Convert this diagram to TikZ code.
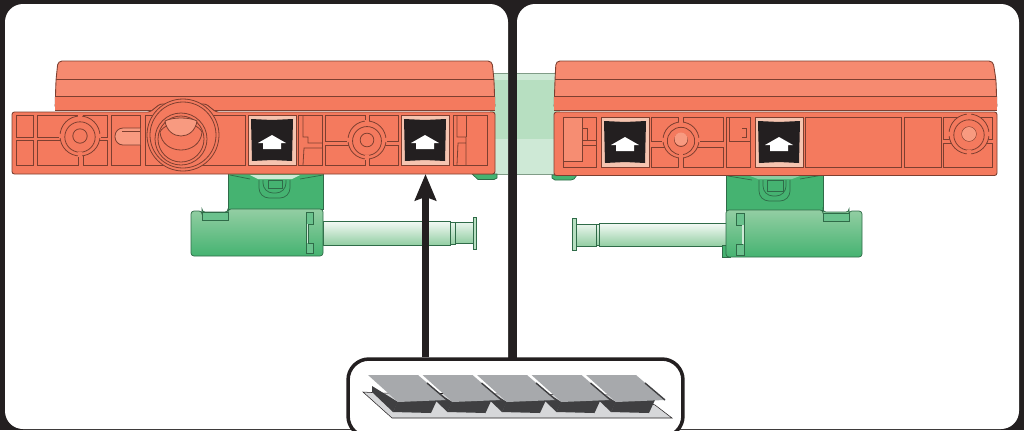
\documentclass[tikz,border=0pt]{standalone}
\usepackage{tikz}
\usetikzlibrary{arrows.meta}
\definecolor{frameblk}{HTML}{231F20}
\definecolor{redbody}{HTML}{F47A5E}
\definecolor{redband}{HTML}{F68A70}
\definecolor{redlight}{HTML}{F89A80}
\definecolor{redline}{HTML}{7D3F30}
\definecolor{badgepale}{HTML}{F6C4B0}
\definecolor{greenbody}{HTML}{45B371}
\definecolor{greenpale}{HTML}{93CEA3}
\definecolor{greenline}{HTML}{2F6B48}
\definecolor{barmid}{HTML}{B7DFC1}
\definecolor{barpale}{HTML}{CEE9D6}
\definecolor{padtop}{HTML}{A7A9AC}
\definecolor{padside}{HTML}{3F3F41}
\definecolor{padbase}{HTML}{D6D7D9}

% --- Small parts that repeat ---
\newcommand{\cell}[4]{\draw[cellline] (#1,#2) rectangle (#3,#4);}
\newcommand{\badge}[2]{% pale square, black label, white arrow; #1 = centre x, #2 = top y
  \draw[cellline, fill=badgepale] (#1-24,#2) rectangle (#1+24,#2+50);
  \fill[frameblk] (#1-21,#2+4) -- (#1,#2+5) -- (#1+21,#2+4) -- (#1+20,#2+46) -- (#1,#2+45) -- (#1-20,#2+46) -- cycle;
  \fill[white] (#1,#2+20) -- (#1+14,#2+28) -- (#1+9,#2+28) -- (#1+9,#2+34) -- (#1-9,#2+34) -- (#1-9,#2+28) -- (#1-14,#2+28) -- cycle;}
\newcommand{\socket}[4]{% #1,#2 = centre, #3 = radius, #4 = fill of the inner circle
  \draw[cellline, fill=redbody] (#1,#2) circle (#3);
  \draw[cellline] (#1,#2+1) circle (#3*0.76);
  \draw[cellline, fill=#4] (#1,#2) circle (#3*0.36);
  \fill[redbody] (#1-1.6,#2-#3-1) rectangle (#1+1.6,#2-#3*0.78);
  \fill[redbody] (#1-1.6,#2+#3*0.8) rectangle (#1+1.6,#2+#3+1);
  \fill[redbody] (#1-#3-1,#2-1.6) rectangle (#1-#3*0.8,#2+1.6);
  \fill[redbody] (#1+#3*0.8,#2-1.6) rectangle (#1+#3+1,#2+1.6);}
\newcommand{\keypad}[1]{% one key of the strip, #1 = x shift
  \fill[padside] (#1+372,386) -- (#1+398,402) -- (#1+393,412) -- (#1+372,392) -- cycle;
  \fill[padside] (#1+398,401) -- (#1+437,400) -- (#1+431,413) -- (#1+393,412) -- cycle;
  \draw[white, line width=0.7pt] (#1+419,376) -- (#1+428,383);
  \fill[padtop] (#1+368,375) -- (#1+418,375) -- (#1+447,400) -- (#1+398,402) -- cycle;
  \draw[padside, line width=0.8pt] (#1+427,383) -- (#1+447,400);}

\begin{document}
\begin{tikzpicture}[x=0.02cm, y=-0.02cm, >=stealth]
\tikzstyle{cellline} = [draw=redline, line width=0.45pt]
\tikzstyle{greenedge} = [draw=greenline, line width=0.4pt]
\tikzstyle{panel} = [fill=white, rounded corners=0.36cm]
\tikzstyle{bandline} = [draw=redline, line width=0.5pt]
\tikzstyle{ushape} = [greenedge, rounded corners=0.2cm]

\useasboundingbox (0,0) rectangle (1024,430);

% ==========================================
% FRAME: two white panels on black
% ==========================================
\fill[frameblk] (0,0) rectangle (1024,430);
\fill[panel] (5,4) rectangle (508,429);
\fill[panel] (517,4) rectangle (1019,429);

% ==========================================
% GREEN BAR behind the two cut ends
% ==========================================
\fill[barpale] (490,73) rectangle (508,174);
\fill[barmid] (490,80) rectangle (508,139);
\fill[barpale] (517,73) rectangle (560,174);
\fill[barmid] (517,80) rectangle (560,139);
\draw[barmid!70!black, line width=0.3pt] (490,73) -- (508,73) (517,73) -- (560,73) (490,174) -- (508,174) (517,174) -- (560,174);
\draw[greenedge, fill=greenbody] (472,174) -- (497,174) -- (497,178) -- (494,179.5) -- (478,179.5) -- cycle;
\draw[greenedge, fill=greenbody] (552,175) -- (577,175) -- (574,179) -- (571,180) -- (555,180) -- (552,178) -- cycle;

% ==========================================
% LEFT CONNECTOR
% ==========================================
\draw[greenedge, fill=greenbody] (228,172) rectangle (323,209);
\draw[greenedge] (230,175) -- (250,179) (323,175) -- (300,179);
\fill[barpale] (250,175) -- (300,175) -- (292,179) -- (258,179) -- cycle;
\draw[ushape] (259,180) -- (259,198) -- (290,198) -- (290,180);
\draw[ushape] (263,180) -- (263,193) -- (286,193) -- (286,180);
\draw[greenedge] (268,180) rectangle (282,188);
% shaft
\draw[greenedge, top color=white!90!greenpale, bottom color=greenpale] (323,221) rectangle (450,245);
\draw[greenedge, top color=white!80!greenpale, bottom color=greenpale] (450,222) rectangle (455,244);
\draw[greenedge, top color=white!80!greenpale, bottom color=greenpale] (455,222) rectangle (473,243);
\draw[greenedge, fill=barmid] (473,217) rectangle (476,249);
% body with its tab
\draw[greenedge, top color=greenpale, bottom color=greenbody, rounded corners=0.06cm] (191,256) -- (191,211) -- (202,211) -- (202,212) -- (228,212) -- (228,209) -- (323,209) -- (323,256) -- cycle;
\draw[greenedge, fill=greenbody!80!white] (202,212) rectangle (228,220);
\draw[greenedge, fill=greenbody!80!white] (306,212) -- (313,212) -- (313,224) -- (308,224) -- (308,243) -- (313,243) -- (313,253) -- (306,253) -- cycle;
\fill[barpale] (306.6,224) rectangle (308,243);

% ==========================================
% RIGHT CONNECTOR
% ==========================================
\draw[greenedge, fill=greenbody] (726,172) rectangle (823,210);
\draw[greenedge] (728,176) -- (752,180) (823,175) -- (800,179);
\fill[barpale!50!greenbody] (750,176) -- (800,176) -- (792,179) -- (758,179) -- cycle;
\draw[ushape] (759,180) -- (759,201) -- (790,201) -- (790,180);
\draw[ushape] (763,180) -- (763,196) -- (786,196) -- (786,180);
\draw[greenedge] (767,180) rectangle (783,191);
% shaft
\draw[greenedge, top color=white!90!greenpale, bottom color=greenpale] (599,223) rectangle (726,246);
\draw[greenedge, top color=white!80!greenpale, bottom color=greenpale] (596,224) rectangle (599,245);
\draw[greenedge, top color=white!80!greenpale, bottom color=greenpale] (576,224) rectangle (596,246);
\draw[greenedge, fill=barmid] (572,218) rectangle (576,250);
% body with its tab
\draw[greenedge, fill=greenbody] (722,245) rectangle (730,257);
\draw[greenedge, top color=greenpale, bottom color=greenbody, rounded corners=0.06cm] (726,257) -- (726,210) -- (823,210) -- (823,212) -- (849,212) -- (849,211) -- (862,211) -- (862,257) -- cycle;
\draw[greenedge, fill=greenbody!80!white] (823,213) rectangle (849,221);
\draw[greenedge, fill=greenbody!80!white] (744,213) -- (736,213) -- (736,225) -- (742,225) -- (742,244) -- (736,244) -- (736,255) -- (744,255) -- cycle;
\fill[barpale] (742,225) rectangle (743.5,244);

% ==========================================
% LEFT UNIT
% ==========================================
\draw[bandline, fill=redband, rounded corners=0.08cm] (55,110) -- (56,80) -- (58,61) -- (492,61) -- (494,80) -- (495,110) -- cycle;
\fill[redbody] (55.3,97) rectangle (494.7,110);
\draw[bandline] (56,79) -- (494,79) (55,96) -- (495,96) (55,110) -- (495,110);
\draw[bandline, fill=redbody, rounded corners=0.05cm] (12,112) -- (150,112) -- (160,104) -- (206,104) -- (216,112) -- (495,112) -- (495,174) -- (12,174) -- cycle;
% compartments from left to right
\cell{16}{115}{33}{137}
\cell{16}{140}{33}{165}
\cell{37}{115}{78}{137}
\cell{37}{140}{78}{165}
\cell{83}{115}{107}{137}
\cell{83}{140}{107}{165}
\socket{80}{136}{20}{redbody}
\cell{111}{115}{140}{165}
\draw[cellline, fill=redlight, rounded corners=0.16cm] (140,128) -- (115,128) -- (115,145) -- (140,145);
\draw[cellline] (122,131) -- (140,131);
\cell{145}{115}{245}{165}
\draw[cellline, fill=redbody] (183,135) circle (36);
\draw[cellline] (183,135) circle (33);
\draw[cellline, fill=redbody] (181,139) circle (26);
\draw[cellline] (181,139) circle (23);
\draw[cellline, fill=redbody] (160,132) .. controls (162,156) and (200,156) .. (202,132) .. controls (196,120) and (166,120) .. cycle;
\draw[cellline, fill=redlight] (165,121) .. controls (168,141) and (194,141) .. (197,121) .. controls (190,117) and (172,117) .. cycle;
\badge{272}{115}
\cell{298}{115}{322}{165}
\draw[cellline] (303,115) -- (303,137) -- (308,137) -- (308,143) -- (322,143) (303,165) -- (304,148) -- (322,148);
\cell{325}{115}{365}{141}
\cell{325}{145}{365}{165}
\cell{369}{115}{398}{141}
\cell{369}{145}{398}{165}
\socket{367}{140}{19}{redbody}
\badge{425}{115}
\cell{453}{115}{487}{165}
\draw[cellline] (457,115) -- (457,137) -- (466,137) -- (466,165) (457,165) -- (458,143) -- (466,143);
\draw[cellline] (466,115) -- (466,137);

% ==========================================
% RIGHT UNIT
% ==========================================
\draw[bandline, fill=redband, rounded corners=0.08cm] (554,110) -- (555,80) -- (556,61) -- (993,61) -- (996,80) -- (997,110) -- cycle;
\fill[redbody] (554.3,97) rectangle (996.7,110);
\draw[bandline] (555,79) -- (996,79) (554,96) -- (997,96) (554,110) -- (997,110);
\draw[bandline, fill=redbody, rounded corners=0.05cm] (554,112) rectangle (997,175.5);
% compartments from left to right
\cell{563}{117}{596}{167}
\draw[cellline, fill=redlight!60!redbody] (563,117) rectangle (582,161);
\draw[cellline] (582,128) -- (587,128) -- (587,140) -- (582,140) (582,140) -- (596,140) (582,145) -- (596,145);
\badge{625}{117}
\cell{651}{117}{678}{141}
\cell{651}{147}{678}{167}
\cell{683}{117}{723}{141}
\cell{683}{147}{723}{167}
\socket{681}{140}{18}{redbody}
\fill[redlight] (681,139) circle (6.5);
\cell{726}{117}{750}{167}
\draw[cellline] (729,117) -- (729,141) -- (750,141) (742,128) -- (746,128) -- (746,137) -- (742,137);
\badge{779}{117}
\cell{805}{117}{901}{167}
\cell{904}{117}{941}{167}
\cell{943}{117}{992}{139}
\cell{943}{143}{992}{167}
\socket{969}{134}{20}{redbody}
\fill[redlight] (969,134) circle (7);

% ==========================================
% CALLOUT WITH KEY STRIP
% ==========================================
\coordinate (badgetip) at (425.5,174);
\node[draw=frameblk, fill=white, line width=2pt, rounded corners=0.42cm, minimum width=6.7cm, minimum height=1.56cm, inner sep=0pt] (callout) at (515.5,398) {};
\draw[frameblk, line width=3.7pt, ->, >={Stealth[length=15pt, width=12pt, inset=2pt]}] (callout.north -| badgetip) -- (badgetip);
\clip (340,355) rectangle (690,430);
\draw[frameblk, line width=0.3pt, fill=padbase] (363,392) -- (392,418) -- (672,418) -- (655,405) -- (630,395) -- (380,393) -- cycle;
\foreach \i in {4,3,2,1,0}{
  \keypad{\i*54.5}
}
\end{tikzpicture}
\end{document}
